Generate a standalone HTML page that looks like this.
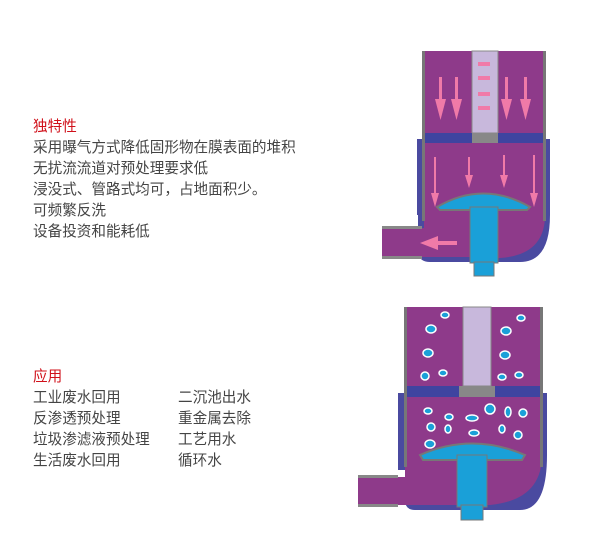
<!DOCTYPE html>
<html><head><meta charset="utf-8"><style>
body{margin:0;width:603px;height:545px;background:#fff;position:relative;overflow:hidden;font-family:"Liberation Sans","Noto Sans CJK SC",sans-serif;}
.t{position:absolute;left:33px;font-size:14.6px;line-height:21px;color:#444;white-space:nowrap}
.r{color:#d0101a}
svg{position:absolute;left:0;top:0}
</style></head><body>
<div class="t" style="top:117px"><span class="r">独特性</span><br>采用曝气方式降低固形物在膜表面的堆积<br>无扰流流道对预处理要求低<br>浸没式、管路式均可，占地面积少。<br>可频繁反洗<br>设备投资和能耗低</div>
<div class="t" style="top:367px"><span class="r">应用</span><br>工业废水回用<br>反渗透预处理<br>垃圾渗滤液预处理<br>生活废水回用</div>
<div class="t" style="top:388px;left:178px">二沉池出水<br>重金属去除<br>工艺用水<br>循环水</div>
<svg width="603" height="545">
<!-- diagram 1 -->
<g>
<path d="M417,139 H550 V215 Q550,262 520,262 H430 Q418,262 418,250 V215 H417 Z" fill="#4a4aa0"/>
<rect x="382" y="228" width="60" height="29" fill="#8e3a8a"/>
<rect x="382" y="226" width="40" height="3" fill="#888"/><rect x="382" y="256" width="40" height="3" fill="#888"/>
<path d="M424,143 H545 V215 Q545,255 500,258 H470 V257 H440 V228 H424 Z" fill="#8e3a8a"/>
<rect x="422" y="51" width="3" height="170" fill="#777"/><rect x="543" y="51" width="3" height="170" fill="#777"/>
<rect x="425" y="51" width="118" height="82" fill="#8e3a8a"/>
<rect x="472" y="51" width="26" height="82" fill="#c8b8dc" stroke="#888"/>
<rect x="425" y="133" width="118" height="10" fill="#3f44a0"/>
<rect x="472" y="133" width="26" height="10" fill="#888"/>
<path d="M437,207 Q483,180 530,207 L527,210 H440 Z" fill="#1aa0d8" stroke="#777" stroke-width="2"/>
<rect x="470" y="207" width="28" height="56" fill="#1aa0d8" stroke="#777"/>
<rect x="474" y="262" width="20" height="14" fill="#1aa0d8" stroke="#777"/>
<g fill="#f07aa8">
<rect x="439" y="77" width="3" height="22"/><path d="M435,99 H446 L440.5,120 Z"/>
<rect x="455" y="77" width="3" height="22"/><path d="M451,99 H462 L456.5,120 Z"/>
<rect x="505" y="77" width="3" height="22"/><path d="M501,99 H512 L506.5,120 Z"/>
<rect x="524" y="77" width="3" height="22"/><path d="M520,99 H531 L525.5,120 Z"/>
<rect x="434" y="157" width="2" height="38"/><path d="M431,193 H439 L435,207 Z"/>
<rect x="468" y="157" width="2" height="20"/><path d="M465,175 H473 L469,188 Z"/>
<rect x="503" y="155" width="2" height="22"/><path d="M500,175 H508 L504,188 Z"/>
<rect x="533" y="155" width="2" height="40"/><path d="M530,193 H538 L534,207 Z"/>
<rect x="438" y="241" width="19" height="4"/><path d="M438,236 V250 L420,243 Z"/>
<rect x="478" y="62" width="12" height="4"/><rect x="478" y="76" width="12" height="4"/><rect x="478" y="92" width="12" height="4"/><rect x="478" y="106" width="12" height="4"/>
</g>
</g>
<!-- diagram 2 -->
<g>
<path d="M398,393 H547 V455 Q547,510 520,510 H415 Q405,510 405,500 V470 H398 Z" fill="#4a4aa0"/>
<rect x="358" y="477" width="64" height="28" fill="#8e3a8a"/>
<rect x="358" y="475" width="40" height="3" fill="#888"/><rect x="358" y="504" width="40" height="3" fill="#888"/>
<path d="M405,397 H542 V455 Q542,500 490,505 H457 V505 H418 V477 H405 Z" fill="#8e3a8a"/>
<rect x="404" y="307" width="3" height="160" fill="#777"/><rect x="540" y="307" width="3" height="160" fill="#777"/>
<rect x="407" y="307" width="133" height="79" fill="#8e3a8a"/>
<rect x="463" y="307" width="28" height="79" fill="#c8b8dc" stroke="#888"/>
<rect x="407" y="386" width="133" height="11" fill="#3f44a0"/>
<rect x="459" y="386" width="36" height="11" fill="#888"/>
<path d="M420,455 Q472,432 525,455 L522,460 H423 Z" fill="#1aa0d8" stroke="#777" stroke-width="2"/>
<rect x="457" y="455" width="30" height="52" fill="#1aa0d8" stroke="#777"/>
<rect x="461" y="505" width="22" height="15" fill="#1aa0d8" stroke="#777"/>
<g fill="#1aa0d8" stroke="#fff" stroke-width="1.5">
<ellipse cx="445" cy="315" rx="4" ry="3"/><ellipse cx="431" cy="329" rx="5" ry="4"/><ellipse cx="428" cy="353" rx="5" ry="4"/><ellipse cx="425" cy="376" rx="4" ry="4"/><ellipse cx="443" cy="373" rx="4" ry="3"/>
<ellipse cx="521" cy="318" rx="4" ry="3"/><ellipse cx="506" cy="331" rx="5" ry="4"/><ellipse cx="505" cy="355" rx="5" ry="4"/><ellipse cx="502" cy="377" rx="4" ry="3"/><ellipse cx="519" cy="375" rx="4" ry="3"/>
<ellipse cx="428" cy="411" rx="4" ry="3"/><ellipse cx="449" cy="417" rx="4" ry="3"/><ellipse cx="472" cy="418" rx="6" ry="3"/><ellipse cx="490" cy="409" rx="5" ry="5"/><ellipse cx="508" cy="412" rx="3" ry="5"/><ellipse cx="523" cy="413" rx="4" ry="4"/>
<ellipse cx="431" cy="427" rx="4" ry="4"/><ellipse cx="448" cy="429" rx="3" ry="4"/><ellipse cx="474" cy="433" rx="5" ry="3"/><ellipse cx="502" cy="429" rx="3" ry="4"/><ellipse cx="518" cy="435" rx="4" ry="4"/><ellipse cx="430" cy="444" rx="5" ry="4"/>
</g>
</g>
</svg>
</body></html>
